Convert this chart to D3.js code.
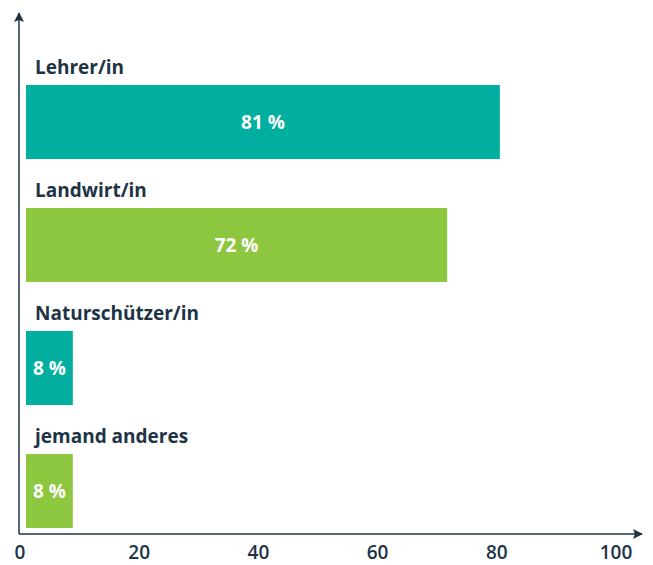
<!DOCTYPE html>
<html>
<head>
<meta charset="utf-8">
<script src="https://cdn.jsdelivr.net/npm/d3@7"></script>
<style>
  body { margin: 0; background: #fff; }
  svg { display: block; font-family: "Open Sans", sans-serif; }
</style>
</head>
<body>
<svg id="chart" width="653" height="565"></svg>
<script>
// Data
const categories = ['Lehrer/in', 'Landwirt/in', 'Naturschützer/in', 'jemand anderes'];
const values = [81, 72, 8, 8];
const barColors = ['#00afa0', '#8dc63f', '#00afa0', '#8dc63f'];
const tickValues = [0, 20, 40, 60, 80, 100];

const svg = d3.select('#chart');
const ink = '#1d3446';

const axisX = 19;
const axisY = 534;
const barH = 74;

// axis scale (tick labels) and bar scale
const x = d3.scaleLinear().domain([0, 100]).range([20, 616]);
const xb = d3.scaleLinear().domain([0, 100]).range([26, 611]);

const y = d3.scaleBand()
    .domain(categories)
    .range([36, 528]);

const barTop = d => y(d) + y.bandwidth() - barH;

// Arrow marker
svg.append('defs').append('marker')
    .attr('id', 'arrow')
    .attr('viewBox', '0 0 10 10')
    .attr('refX', 9)
    .attr('refY', 5)
    .attr('markerWidth', 10)
    .attr('markerHeight', 10)
    .attr('markerUnits', 'userSpaceOnUse')
    .attr('orient', 'auto')
    .append('path')
    .attr('d', 'M0,0 L10,5 L0,10 L2,5 Z')
    .attr('fill', ink);

// Axes
svg.append('line')
    .attr('x1', axisX).attr('y1', axisY)
    .attr('x2', axisX).attr('y2', 13)
    .attr('stroke', ink)
    .attr('stroke-width', 1.5)
    .attr('marker-end', 'url(#arrow)');

svg.append('line')
    .attr('x1', axisX).attr('y1', axisY)
    .attr('x2', 642).attr('y2', axisY)
    .attr('stroke', ink)
    .attr('stroke-width', 1.5)
    .attr('marker-end', 'url(#arrow)');

// Tick labels
svg.selectAll('.tick-label')
    .data(tickValues)
    .enter()
    .append('text')
    .attr('class', 'tick-label')
    .attr('x', d => x(d))
    .attr('y', 559)
    .attr('text-anchor', 'middle')
    .attr('fill', ink)
    .attr('font-size', '19px')
    .attr('font-weight', 600)
    .text(d => d);

// Bars
const rows = categories.map((c, i) => ({ cat: c, value: values[i], color: barColors[i] }));

svg.selectAll('.bar')
    .data(rows)
    .enter()
    .append('rect')
    .attr('class', 'bar')
    .attr('x', xb(0))
    .attr('y', d => barTop(d.cat))
    .attr('width', d => xb(d.value) - xb(0))
    .attr('height', barH)
    .attr('fill', d => d.color);

// Category labels
svg.selectAll('.cat-label')
    .data(rows)
    .enter()
    .append('text')
    .attr('class', 'cat-label')
    .attr('x', 35)
    .attr('y', d => barTop(d.cat) - 11)
    .attr('fill', ink)
    .attr('font-size', '19px')
    .attr('font-weight', 700)
    .text(d => d.cat);

// Value labels
svg.selectAll('.val-label')
    .data(rows)
    .enter()
    .append('text')
    .attr('class', 'val-label')
    .attr('x', d => (xb(0) + xb(d.value)) / 2)
    .attr('y', d => barTop(d.cat) + barH / 2)
    .attr('text-anchor', 'middle')
    .attr('dominant-baseline', 'central')
    .attr('fill', '#fff')
    .attr('font-size', '19px')
    .attr('font-weight', 700)
    .text(d => d.value + ' %');
</script>
</body>
</html>
